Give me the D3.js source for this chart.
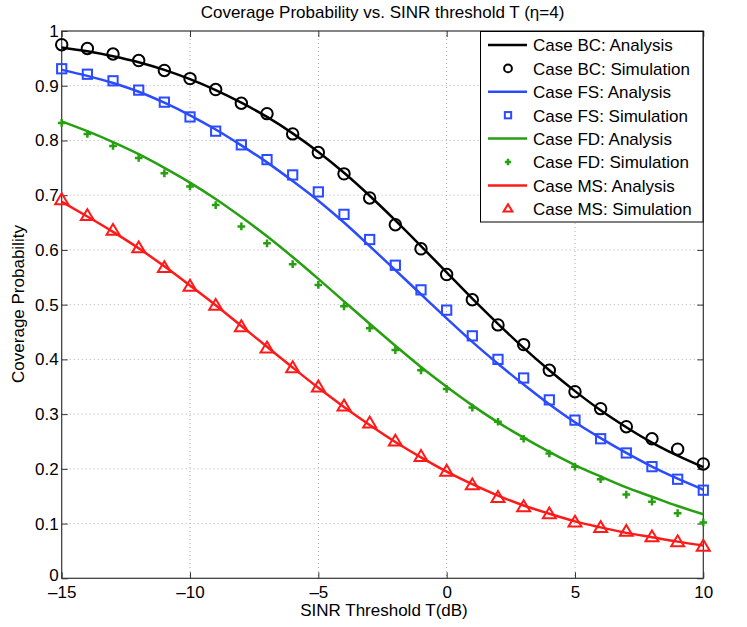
<!DOCTYPE html>
<html><head><meta charset="utf-8">
<script src="https://cdn.jsdelivr.net/npm/d3@7"></script>
<style>body{margin:0;background:#fff}svg{display:block}text{font-family:"Liberation Sans",Arial,sans-serif}</style>
</head><body><svg id="c" width="747" height="627"></svg>
<script>
const xs = [-15,-14,-13,-12,-11,-10,-9,-8,-7,-6,-5,-4,-3,-2,-1,0,1,2,3,4,5,6,7,8,9,10];
const bcAnalysis = [0.970,0.963,0.954,0.943,0.929,0.912,0.892,0.869,0.843,0.813,0.779,0.741,0.699,0.654,0.607,0.559,0.511,0.465,0.421,0.380,0.342,0.307,0.276,0.248,0.224,0.203];
const bcSim = [0.975,0.968,0.958,0.946,0.928,0.913,0.893,0.868,0.849,0.812,0.778,0.739,0.695,0.646,0.602,0.555,0.509,0.463,0.427,0.380,0.341,0.310,0.277,0.255,0.236,0.209];
const fsAnalysis = [0.929,0.918,0.905,0.889,0.869,0.846,0.820,0.791,0.760,0.726,0.690,0.650,0.607,0.563,0.519,0.475,0.432,0.392,0.354,0.318,0.285,0.256,0.229,0.204,0.182,0.162];
const fsSim = [0.931,0.921,0.909,0.892,0.870,0.843,0.817,0.792,0.765,0.737,0.706,0.665,0.619,0.572,0.527,0.490,0.443,0.400,0.366,0.326,0.289,0.255,0.229,0.204,0.181,0.161];
const fdAnalysis = [0.835,0.817,0.797,0.775,0.750,0.723,0.693,0.660,0.625,0.587,0.547,0.506,0.465,0.425,0.386,0.350,0.316,0.285,0.257,0.231,0.207,0.186,0.166,0.149,0.132,0.117];
const fdSim = [0.832,0.812,0.790,0.768,0.740,0.716,0.682,0.643,0.612,0.574,0.536,0.497,0.457,0.417,0.380,0.346,0.312,0.286,0.255,0.228,0.204,0.181,0.153,0.140,0.119,0.102];
const msAnalysis = [0.688,0.661,0.633,0.603,0.570,0.535,0.499,0.461,0.423,0.385,0.348,0.313,0.280,0.249,0.221,0.195,0.172,0.151,0.133,0.118,0.104,0.093,0.083,0.075,0.067,0.060];
const msSim = [0.691,0.662,0.635,0.603,0.567,0.533,0.498,0.459,0.420,0.384,0.349,0.314,0.283,0.250,0.222,0.195,0.170,0.147,0.130,0.117,0.102,0.092,0.085,0.075,0.066,0.058];
const xTicks = [-15,-10,-5,0,5,10];
const yTicks = [0,0.1,0.2,0.3,0.4,0.5,0.6,0.7,0.8,0.9,1];
const seriesNames = ["BC","FS","FD","MS"];
const colors = ["#000000","#2a4bff","#26a010","#ff1a1a"];
const markers = ["circle","square","plus","triangle"];
const title = "Coverage Probability vs. SINR threshold T (\u03b7=4)";
const xLabel = "SINR Threshold T(dB)";
const yLabel = "Coverage Probability";

const FS = 17;
const svg = d3.select("#c");
const L = 61.7, R = 703.3, T = 31, B = 578.3;
const x = d3.scaleLinear().domain([-15,10]).range([L,R]);
const y = d3.scaleLinear().domain([0,1]).range([B,T]);

// grid
const g = svg.append("g");
g.selectAll(".gx").data(xTicks.slice(1,-1)).enter().append("line")
  .attr("x1",d=>x(d)).attr("x2",d=>x(d)).attr("y1",T).attr("y2",B)
  .attr("stroke","#999").attr("stroke-width",0.8).attr("stroke-dasharray","1,3");
g.selectAll(".gy").data(yTicks.slice(1,-1)).enter().append("line")
  .attr("y1",d=>y(d)).attr("y2",d=>y(d)).attr("x1",L).attr("x2",R)
  .attr("stroke","#999").attr("stroke-width",0.8).attr("stroke-dasharray","1,3");

// axes
const fmtY = d => d===0?"0":(d===1?"1":d3.format(".1f")(d));
const fmtX = d => d<0 ? "\u2013"+Math.abs(d) : String(d);
const ax = d3.axisBottom(x).tickValues(xTicks).tickSize(-6).tickPadding(8).tickFormat(fmtX);
const ay = d3.axisLeft(y).tickValues(yTicks).tickSize(-6).tickPadding(3).tickFormat(fmtY);
const axT = d3.axisTop(x).tickValues(xTicks).tickSize(-6).tickFormat("");
const ayR = d3.axisRight(y).tickValues(yTicks).tickSize(-6).tickFormat("");
function style(sel){ sel.select(".domain").remove(); sel.selectAll("line").attr("stroke","#333");
  sel.selectAll("text").attr("font-size",FS).attr("fill","#000").attr("font-family","Liberation Sans, Arial, sans-serif"); }
svg.append("g").attr("transform",`translate(0,${B})`).call(ax).call(style);
const gy = svg.append("g").attr("transform",`translate(${L},0)`).call(ay).call(style);
gy.selectAll(".tick text").filter(d=>d===0).attr("dy","0.1em");
svg.append("g").attr("transform",`translate(0,${T})`).call(axT).call(style);
svg.append("g").attr("transform",`translate(${R},0)`).call(ayR).call(style);
svg.append("rect").attr("x",L).attr("y",T).attr("width",R-L).attr("height",B-T)
  .attr("fill","none").attr("stroke","#333").attr("stroke-width",1.2);

// data
const analyses = [bcAnalysis,fsAnalysis,fdAnalysis,msAnalysis];
const sims = [bcSim,fsSim,fdSim,msSim];
const line = d3.line().x(d=>x(d[0])).y(d=>y(d[1])).curve(d3.curveMonotoneX);
function drawMarker(sel, type, color, size){
  if(type==="circle") sel.append("circle").attr("r",size*0.52).attr("fill","none").attr("stroke",color).attr("stroke-width",2);
  else if(type==="square") sel.append("rect").attr("x",-size*0.42).attr("y",-size*0.42).attr("width",size*0.84).attr("height",size*0.84).attr("fill","none").attr("stroke",color).attr("stroke-width",2);
  else if(type==="plus") sel.append("path").attr("d",`M${-size*0.35},0H${size*0.35}M0,${-size*0.35}V${size*0.35}`).attr("stroke",color).attr("stroke-width",2.5).attr("fill","none");
  else if(type==="triangle"){ const s=size*0.62; sel.append("path").attr("d",`M0,${-s}L${s*0.95},${s*0.6}L${-s*0.95},${s*0.6}Z`).attr("fill","none").attr("stroke",color).attr("stroke-width",2).attr("stroke-linejoin","miter"); }
}
analyses.forEach((arr,i)=>{
  svg.append("path").datum(xs.map((v,j)=>[v,arr[j]])).attr("d",line)
    .attr("fill","none").attr("stroke",colors[i]).attr("stroke-width",2.5);
});
sims.forEach((arr,i)=>{
  xs.forEach((v,j)=>{
    const m = svg.append("g").attr("transform",`translate(${x(v)},${y(arr[j])})`);
    drawMarker(m, markers[i], colors[i], 11);
  });
});

// legend
const lg = svg.append("g");
lg.append("rect").attr("x",480.5).attr("y",31.5).attr("width",222.5).attr("height",190.5)
  .attr("fill","#fff").attr("stroke","#000").attr("stroke-width",1);
const rowH = 23.4, y0 = 45;
seriesNames.forEach((n,i)=>{
  const ya = y0 + rowH*(2*i), ys = y0 + rowH*(2*i+1);
  lg.append("line").attr("x1",488).attr("x2",527).attr("y1",ya).attr("y2",ya).attr("stroke",colors[i]).attr("stroke-width",2.5);
  lg.append("text").attr("x",533).attr("y",ya+6.3).attr("font-size",FS).text(`Case ${n}: Analysis`);
  const m = lg.append("g").attr("transform",`translate(508,${ys})`);
  drawMarker(m, markers[i], colors[i], markers[i]==="plus" ? 9 : 7.5);
  lg.append("text").attr("x",533).attr("y",ys+6.3).attr("font-size",FS).text(`Case ${n}: Simulation`);
});

// labels
svg.append("text").attr("x",382.5).attr("y",18).attr("text-anchor","middle").attr("font-size",FS).text(title);
svg.append("text").attr("x",384).attr("y",616).attr("text-anchor","middle").attr("font-size",FS).text(xLabel);
svg.append("text").attr("transform","translate(24,304) rotate(-90)").attr("text-anchor","middle").attr("font-size",FS).text(yLabel);
</script></body></html>
